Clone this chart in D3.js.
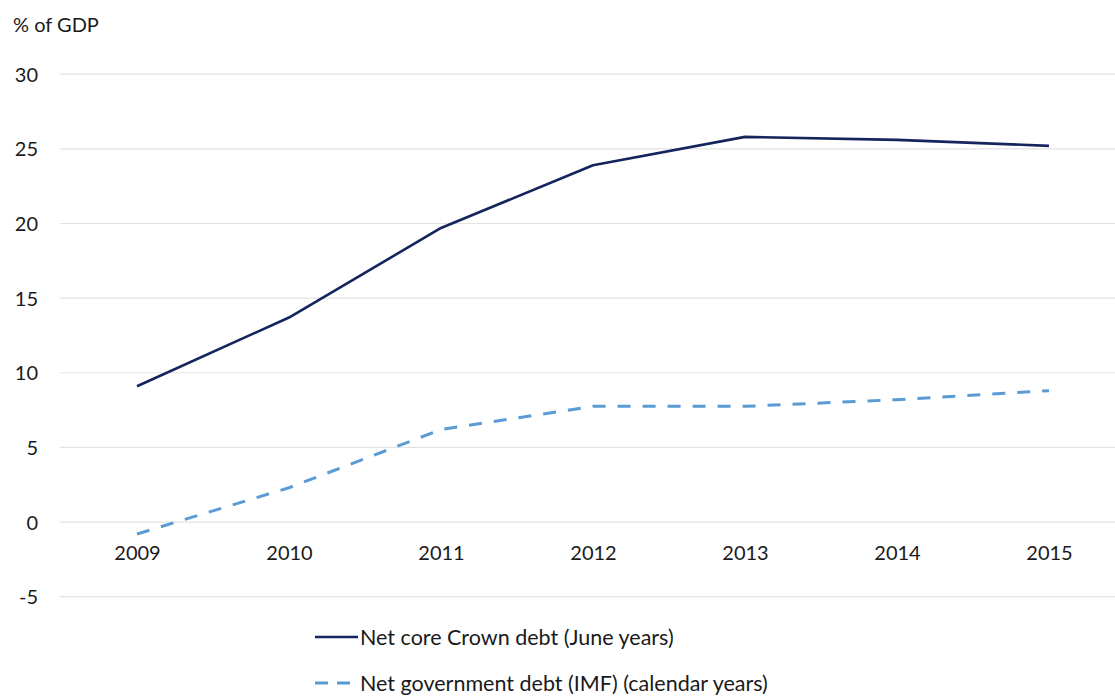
<!DOCTYPE html>
<html>
<head>
<meta charset="utf-8">
<script src="https://cdn.jsdelivr.net/npm/d3@7"></script>
<style>
  html, body { margin: 0; padding: 0; background: #fff; }
  svg { display: block; font-family: Lato, "Open Sans", sans-serif; }
</style>
</head>
<body>
<svg id="chart" width="1115" height="697"></svg>
<script>
const years = ["2009", "2010", "2011", "2012", "2013", "2014", "2015"];
const crownDebt = [9.1, 13.7, 19.7, 23.9, 25.8, 25.6, 25.2];
const imfDebt = [-0.8, 2.3, 6.2, 7.75, 7.75, 8.2, 8.8];
const yTicks = [-5, 0, 5, 10, 15, 20, 25, 30];
const seriesNames = ["Net core Crown debt (June years)", "Net government debt (IMF) (calendar years)"];
const yAxisTitle = "% of GDP";

const svg = d3.select("#chart");
const W = 1115, H = 697;

const x = d3.scalePoint().domain(years).range([137, 1049]);
const y = d3.scaleLinear().domain([-5, 30]).range([596.7, 74.2]);

// gridlines
svg.append("g").selectAll("line").data(yTicks).join("line")
  .attr("x1", 60).attr("x2", W)
  .attr("y1", d => y(d)).attr("y2", d => y(d))
  .attr("stroke", "#e3e3e3").attr("stroke-width", 1.2);

// y axis labels
const yAxis = d3.axisLeft(y).tickValues(yTicks).tickSize(0).tickPadding(0).tickFormat(d => String(d));
const gy = svg.append("g").attr("transform", "translate(38,0)").call(yAxis);
gy.select(".domain").remove();
gy.selectAll("text").attr("font-size", 20).attr("fill", "#1a1a1a").attr("dy", "0.35em")
  .style("font-family", "Lato, 'Open Sans', sans-serif");

// x axis labels (placed at fixed row below zero)
const xAxis = d3.axisBottom(x).tickSize(0).tickPadding(0);
const gx = svg.append("g").attr("transform", "translate(0,553)").call(xAxis);
gx.select(".domain").remove();
gx.selectAll("text").attr("font-size", 20).attr("fill", "#1a1a1a").attr("dy", "0.35em")
  .style("font-family", "Lato, 'Open Sans', sans-serif");

// title
svg.append("text").attr("x", 13).attr("y", 32).attr("font-size", 20).attr("fill", "#1a1a1a")
  .text(yAxisTitle);

const line = d3.line().x((d, i) => x(years[i])).y(d => y(d));

svg.append("path").datum(crownDebt).attr("d", line)
  .attr("fill", "none").attr("stroke", "#14245c").attr("stroke-width", 2.6)
  .attr("stroke-linejoin", "round");

svg.append("path").datum(imfDebt).attr("d", line)
  .attr("fill", "none").attr("stroke", "#5b9bd5").attr("stroke-width", 3)
  .attr("stroke-dasharray", "13,12");

// legend
const legend = [
  { name: seriesNames[0], color: "#14245c", dash: null, w: 2.6, yy: 637, x2: 358 },
  { name: seriesNames[1], color: "#5b9bd5", dash: "13,9", w: 3, yy: 683, x2: 356 }
];
const lg = svg.append("g");
legend.forEach(l => {
  lg.append("line").attr("x1", 315).attr("x2", l.x2).attr("y1", l.yy).attr("y2", l.yy)
    .attr("stroke", l.color).attr("stroke-width", l.w)
    .attr("stroke-dasharray", l.dash);
  lg.append("text").attr("x", 360).attr("y", l.yy).attr("dy", "0.35em")
    .attr("font-size", 21.5).attr("fill", "#1a1a1a").text(l.name);
});
</script>
</body>
</html>
